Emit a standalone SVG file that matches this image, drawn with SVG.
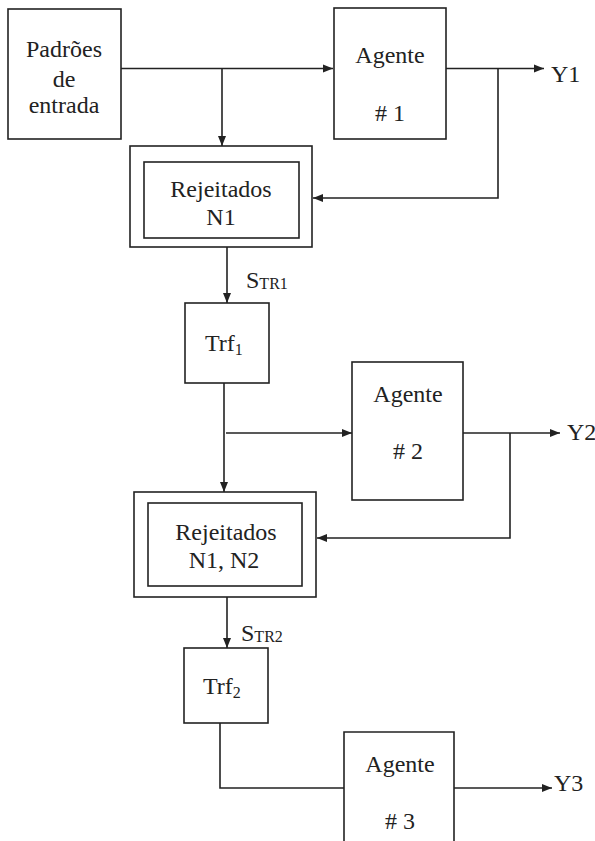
<svg xmlns="http://www.w3.org/2000/svg" width="595" height="841" viewBox="0 0 595 841">
  <style>
    .box { fill: #fff; stroke: #222; stroke-width: 1.6; }
    .wire { fill: none; stroke: #222; stroke-width: 1.6; }
    .lbl { font-family: 'Liberation Serif', 'Times New Roman', serif; font-size: 24px; fill: #222; }
    .mid { text-anchor: middle; }
    .sub { font-size: 16px; }
  </style>
  <defs>
    <marker id="arrow" viewBox="0 0 10 10" refX="10" refY="5" markerWidth="10" markerHeight="10" markerUnits="userSpaceOnUse" orient="auto">
      <path d="M0,1 L10,5 L0,9 Z" fill="#222"/>
    </marker>
  </defs>

  <!-- connectors -->
  <g id="connectors">
    <line class="wire" x1="121" y1="68.5" x2="333" y2="68.5" marker-end="url(#arrow)"/>
    <line class="wire" x1="222" y1="68.5" x2="222" y2="146" marker-end="url(#arrow)"/>
    <line class="wire" x1="446" y1="68.5" x2="544" y2="68.5" marker-end="url(#arrow)"/>
    <polyline class="wire" points="498,68.5 498,198 313,198" marker-end="url(#arrow)"/>
    <line class="wire" x1="227" y1="247" x2="227" y2="303" marker-end="url(#arrow)"/>
    <line class="wire" x1="224" y1="383" x2="224" y2="492" marker-end="url(#arrow)"/>
    <line class="wire" x1="226" y1="433" x2="352" y2="433" marker-end="url(#arrow)"/>
    <line class="wire" x1="463" y1="433" x2="560" y2="433" marker-end="url(#arrow)"/>
    <polyline class="wire" points="510,433 510,538 317,538" marker-end="url(#arrow)"/>
    <line class="wire" x1="227" y1="597" x2="227" y2="648" marker-end="url(#arrow)"/>
    <polyline class="wire" points="220,723 220,788 344,788"/>
    <line class="wire" x1="454" y1="788" x2="552" y2="788" marker-end="url(#arrow)"/>
  </g>

  <!-- input patterns -->
  <g id="padroes">
    <rect class="box" x="8" y="9" width="113" height="130"/>
    <text class="lbl mid" x="64" y="57">Padrões</text>
    <text class="lbl mid" x="64" y="87">de</text>
    <text class="lbl mid" x="64" y="113">entrada</text>
  </g>

  <g id="agente1">
    <rect class="box" x="334" y="8" width="112" height="131"/>
    <text class="lbl mid" x="390" y="63">Agente</text>
    <text class="lbl mid" x="390" y="121"># 1</text>
  </g>

  <g id="rejeitados1">
    <rect class="box" x="130" y="146" width="182" height="101"/>
    <rect class="box" x="144" y="162" width="155" height="76"/>
    <text class="lbl mid" x="221" y="197">Rejeitados</text>
    <text class="lbl mid" x="221" y="225">N1</text>
  </g>

  <g id="str1">
    <text class="lbl" x="246" y="288">S<tspan class="sub" dy="1">TR1</tspan></text>
  </g>

  <g id="trf1">
    <rect class="box" x="185" y="303" width="84" height="80"/>
    <text class="lbl" x="205" y="351">Trf<tspan class="sub" dy="4">1</tspan></text>
  </g>

  <g id="agente2">
    <rect class="box" x="352" y="362" width="111" height="138"/>
    <text class="lbl mid" x="408" y="402">Agente</text>
    <text class="lbl mid" x="408" y="459"># 2</text>
  </g>

  <g id="rejeitados2">
    <rect class="box" x="134" y="492" width="182" height="105"/>
    <rect class="box" x="148" y="503" width="154" height="83"/>
    <text class="lbl mid" x="226" y="540">Rejeitados</text>
    <text class="lbl mid" x="224" y="568">N1, N2</text>
  </g>

  <g id="str2">
    <text class="lbl" x="241" y="641">S<tspan class="sub" dy="1">TR2</tspan></text>
  </g>

  <g id="trf2">
    <rect class="box" x="184" y="648" width="84" height="75"/>
    <text class="lbl" x="203" y="694">Trf<tspan class="sub" dy="4">2</tspan></text>
  </g>

  <g id="agente3">
    <path class="box" d="M344,850 L344,732 L454,732 L454,850"/>
    <text class="lbl mid" x="400" y="772">Agente</text>
    <text class="lbl mid" x="400" y="829"># 3</text>
  </g>

  <g id="saidas">
    <text class="lbl" x="551" y="82">Y1</text>
    <text class="lbl" x="567" y="440">Y2</text>
    <text class="lbl" x="554" y="791">Y3</text>
  </g>
</svg>
